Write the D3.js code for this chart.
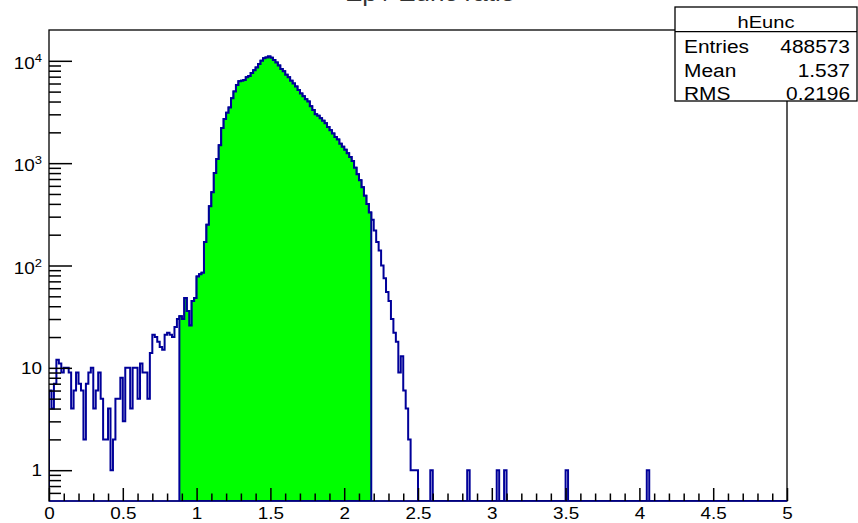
<!DOCTYPE html>
<html>
<head>
<meta charset="utf-8">
<script src="https://cdn.jsdelivr.net/npm/d3@7"></script>
<style>
  body { margin: 0; background: #fff; }
  text { font-family: "Liberation Sans", Arial, Helvetica, sans-serif; }
</style>
</head>
<body>
<div id="chart"></div>
<script>
// histogram hEunc: 300 bins from 0 to 5, counts
const nBins = 300;
const xMin = 0, xMax = 5;
const counts = [
  6, 4, 7, 12, 11, 9, 10, 10, 9, 4,
  6, 9, 7, 6, 2, 7, 9, 10, 4, 6,
  9, 5, 2, 2, 4, 1, 2, 5, 5, 8,
  3, 10, 10, 4, 10, 10, 5, 11, 9, 9,
  5, 14, 21, 20, 18, 16, 15, 21, 22, 21,
  20, 25, 30, 32, 30, 48, 36, 26, 45, 48,
  78, 82, 85, 170, 250, 380, 520, 800, 1100, 1500,
  2200, 2700, 3100, 3500, 4300, 5000, 5800, 6300, 6400, 6500,
  6900, 7100, 7600, 8100, 8600, 9300, 10000, 10600, 10800, 11000,
  10700, 10200, 9600, 9000, 8300, 7900, 7300, 6900, 6400, 6000,
  5600, 5200, 4800, 4500, 4200, 4000, 3600, 3300, 3000, 2900,
  2750, 2600, 2450, 2250, 2100, 1950, 1800, 1700, 1550, 1450,
  1350, 1250, 1150, 1050, 900, 780, 680, 580, 480, 400,
  330, 280, 220, 170, 140, 100, 75, 55, 45, 30,
  22, 18, 9, 13, 6, 4, 2, 1, 1, 1
];
// isolated single entries in the far tail (bin index)
const singleBins = [155, 170, 182, 185, 210, 243];
// bins drawn with the green fill
const fillFrom = 53, fillTo = 131;

const xMajor = [0, 0.5, 1, 1.5, 2, 2.5, 3, 3.5, 4, 4.5, 5];
const yDecades = [1, 10, 100, 1000, 10000];
const yLabels = ["1", "10", "10|2", "10|3", "10|4"];
const statsRows = [["Entries", "488573"], ["Mean", "1.537"], ["RMS", "0.2196"]];
const histName = "hEunc";
const title = "Ep / Eunc ratio";

const W = 858, H = 523;
const frame = { left: 49, right: 787, top: 30, bottom: 501 };
const lineCol = "#000099";
const stretch = 1.18;

const hist = d3.range(nBins).map(i => i < counts.length ? counts[i] : 0);
singleBins.forEach(b => hist[b] += 1);

const svg = d3.select("#chart").append("svg")
  .attr("width", W).attr("height", H);

const x = d3.scaleLinear().domain([xMin, xMax]).range([frame.left, frame.right]);
const y = d3.scaleLog().domain([0.5, 20000]).range([frame.bottom, frame.top]);
const bw = (xMax - xMin) / nBins;
const yv = v => v > 0 ? y(v) : frame.bottom;

svg.append("clipPath").attr("id", "clip")
  .append("rect")
  .attr("x", frame.left).attr("y", frame.top)
  .attr("width", frame.right - frame.left).attr("height", frame.bottom - frame.top);

// step outline for bins [a, b)
function steps(a, b) {
  const pts = [[x(xMin + a * bw), frame.bottom]];
  for (let i = a; i < b; i++) {
    pts.push([x(xMin + i * bw), yv(hist[i])]);
    pts.push([x(xMin + (i + 1) * bw), yv(hist[i])]);
  }
  pts.push([x(xMin + b * bw), frame.bottom]);
  return pts;
}
const line = d3.line();

const plot = svg.append("g").attr("clip-path", "url(#clip)");

plot.append("path")
  .attr("d", line(steps(0, nBins)))
  .attr("fill", "none")
  .attr("stroke", lineCol)
  .attr("stroke-width", 2)
  .attr("stroke-linejoin", "miter");

plot.append("path")
  .attr("d", line(steps(fillFrom, fillTo)) + "Z")
  .attr("fill", "#00ff00")
  .attr("stroke", lineCol)
  .attr("stroke-width", 2);

// frame
svg.append("rect")
  .attr("x", frame.left).attr("y", frame.top)
  .attr("width", frame.right - frame.left).attr("height", frame.bottom - frame.top)
  .attr("fill", "none").attr("stroke", "#000").attr("stroke-width", 1.3);

// bottom line drawn again in blue (zero bins lie on it)
svg.append("line")
  .attr("x1", frame.left).attr("x2", frame.right)
  .attr("y1", frame.bottom).attr("y2", frame.bottom)
  .attr("stroke", lineCol).attr("stroke-width", 1.5);

// x axis
const xMinor = d3.range(0, 51).map(d => d / 10).filter(d => !xMajor.some(m => Math.abs(m - d) < 1e-9));
svg.append("g")
  .attr("transform", `translate(0,${frame.bottom})`)
  .call(d3.axisBottom(x).tickValues(xMinor).tickSize(-7.5).tickFormat(""))
  .call(g => g.select(".domain").remove());
const gx = svg.append("g")
  .attr("transform", `translate(0,${frame.bottom})`)
  .call(d3.axisBottom(x).tickValues(xMajor).tickSize(-13).tickPadding(7).tickFormat(d3.format("")))
  .call(g => g.select(".domain").remove());
svg.selectAll(".tick line").attr("stroke", "#000").attr("stroke-width", 1.5);
gx.selectAll("text")
  .attr("font-size", 16)
  .attr("font-family", "Liberation Sans, Arial, sans-serif")
  .attr("fill", "#000")
  .attr("transform", `scale(${stretch},1)`);

// y axis (log)
const yMinor = [];
[0.1, 1, 10, 100, 1000, 10000].forEach(dec => {
  for (let k = 2; k <= 9; k++) {
    const v = k * dec;
    if (v > 0.5 && v < 20000) yMinor.push(v);
  }
});
svg.append("g")
  .attr("transform", `translate(${frame.left},0)`)
  .call(d3.axisLeft(y).tickValues(yMinor).tickSize(-12).tickFormat(""))
  .call(g => g.select(".domain").remove())
  .selectAll(".tick line").attr("stroke", "#000").attr("stroke-width", 1.5);
svg.append("g")
  .attr("transform", `translate(${frame.left},0)`)
  .call(d3.axisLeft(y).tickValues(yDecades).tickSize(-23).tickFormat(""))
  .call(g => g.select(".domain").remove())
  .selectAll(".tick line").attr("stroke", "#000").attr("stroke-width", 1.5);

yDecades.forEach((v, i) => {
  const parts = yLabels[i].split("|");
  const t = svg.append("text")
    .attr("transform", `translate(42,${y(v) + (parts.length > 1 ? 8 : 6)}) scale(${stretch},1)`)
    .attr("text-anchor", "end")
    .attr("font-size", 16)
    .attr("fill", "#000");
  t.append("tspan").text(parts[0]);
  if (parts.length > 1) {
    t.append("tspan").attr("font-size", 11).attr("dy", -7).text(parts[1]);
  }
});

// title (cut off at the top edge, as in the picture)
svg.append("text")
  .attr("transform", `translate(430,1) scale(${stretch},1)`)
  .attr("text-anchor", "middle")
  .attr("font-size", 22)
  .attr("fill", "#333")
  .text(title);

// stats box
const box = { x: 675, y: 7, w: 182, h: 94, head: 24.7 };
svg.append("rect")
  .attr("x", box.x).attr("y", box.y).attr("width", box.w).attr("height", box.h)
  .attr("fill", "#fff").attr("stroke", "#000").attr("stroke-width", 1.3);
svg.append("line")
  .attr("x1", box.x).attr("x2", box.x + box.w)
  .attr("y1", box.y + box.head).attr("y2", box.y + box.head)
  .attr("stroke", "#000").attr("stroke-width", 1.3);
svg.append("text")
  .attr("transform", `translate(${box.x + box.w / 2},28) scale(${stretch},1)`)
  .attr("text-anchor", "middle")
  .attr("font-size", 17)
  .attr("fill", "#000")
  .text(histName);
statsRows.forEach((r, i) => {
  const by = 53 + i * 23.5;
  svg.append("text")
    .attr("transform", `translate(684,${by}) scale(1.1,1)`)
    .attr("font-size", 19).attr("fill", "#000")
    .text(r[0]);
  svg.append("text")
    .attr("transform", `translate(850,${by}) scale(1.1,1)`)
    .attr("text-anchor", "end")
    .attr("font-size", 19).attr("fill", "#000")
    .text(r[1]);
});
</script>
</body>
</html>
